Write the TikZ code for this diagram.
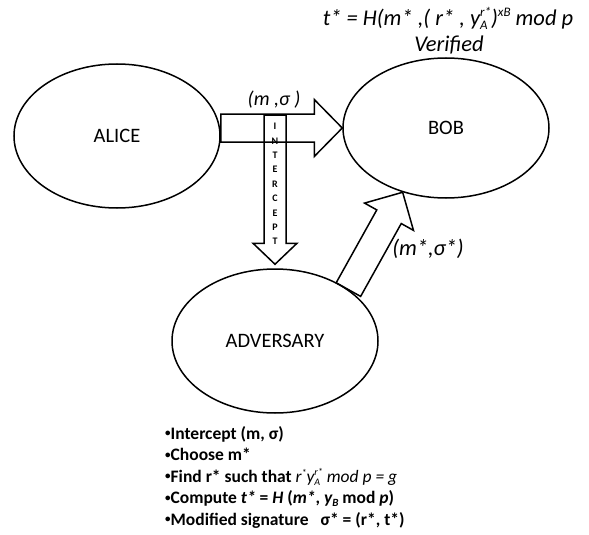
\documentclass[tikz,border=0pt]{standalone}
\usepackage{fontspec}
\setmainfont{Carlito}
\usetikzlibrary{shapes.geometric,calc}
\newcommand\fatarrow[5]{%
  \coordinate (fah) at ($(#2)!#5!(#1)$);
  \draw[fat] ($(#1)!#3!90:(#2)$) -- ($(fah)!#3!90:(#2)$) -- ($(fah)!#4!90:(#2)$)
    -- (#2) -- ($(fah)!#4!-90:(#2)$) -- ($(fah)!#3!-90:(#2)$) -- ($(#1)!#3!-90:(#2)$) -- cycle;
}
\newcommand\bul{\raisebox{2.2pt}{\fontsize{11}{11}\selectfont•}}
% #1 sup, #2 sub, #3 script size, #4 raise sup, #5 lower sub
\newcommand\supsub[5]{\rlap{\raisebox{-#5}{\fontsize{#3}{#3}\selectfont #2}}\raisebox{#4}{\fontsize{#3}{#3}\selectfont #1}}
\newcommand\supo[3]{\raisebox{#3}{\fontsize{#2}{#2}\selectfont #1}}
\newcommand\subo[3]{\raisebox{-#3}{\fontsize{#2}{#2}\selectfont #1}}
\begin{document}
\begin{tikzpicture}[x=1pt,y=-1pt,
  party/.style={draw, line width=1.5pt, ellipse, minimum width=206pt, minimum height=144pt,
    inner sep=0pt, font=\fontsize{20.5}{24}\selectfont},
  fat/.style={draw, line width=1.5pt, line join=miter},
  lbl/.style={inner sep=0pt, font=\fontsize{20}{24}\selectfont\itshape},
  biglbl/.style={inner sep=0pt, font=\fontsize{22.5}{26}\selectfont\itshape},
  letters/.style={inner sep=0pt, align=center, font=\fontsize{10}{14.4}\selectfont\bfseries},
  steps/.style={inner sep=0pt, align=left, font=\fontsize{17.5}{21.5}\selectfont\bfseries}]
\useasboundingbox (0,0) rectangle (589,535);
\node[party] (alice) at (117,136) {ALICE};
\node[party, minimum height=140pt] (bob) at (446,128) {BOB};
\node[party] (adv) at (275,341) {ADVERSARY};
% message arrow Alice -> Bob
\coordinate (h0) at (alice.east |- bob.west);
\fatarrow{h0}{bob.west}{14pt}{28.5pt}{28pt}
% intercept arrow
\coordinate (v1) at ($(adv.north)+(0,-4)$);
\coordinate (v0) at (v1 |- 0,115);
\fatarrow{v0}{v1}{11pt}{22pt}{21pt}
% forged message arrow Adversary -> Bob
\fatarrow{adv.35}{bob.236}{14pt}{28pt}{28pt}
% labels
\node[lbl] (msig) at (274,100) {(m ,σ )};
\node[letters] (icp) at (275,184) {I\\N\\T\\E\\R\\C\\E\\P\\T};
\node[biglbl] (msigs) at (428,249) {(m*,σ*)};
\node[biglbl] (formula) at (448,18) {t* = H(m* ,( r* , y\supsub{r*}{A}{13pt}{9pt}{4pt})\supo{xB}{13pt}{9pt} mod p};
\node[biglbl] (verified) at (449,45) {Verified};
\node[steps, anchor=north west] (list) at (165,426) {%
\bul Intercept (m, σ)\\
\bul Choose m*\\
\bul Find r* such that {\mdseries\itshape r\supo{*}{10pt}{6pt}y\supsub{r*}{A}{10pt}{6.5pt}{3pt}\ mod p = g}\\
\bul Compute {\itshape t*} = {\itshape H} ({\itshape m*}, {\itshape y}\subo{\itshape B}{11pt}{3pt} mod {\itshape p})\\
\bul Modified signature\ \ \ σ* = (r*, t*)};
\end{tikzpicture}
\end{document}
